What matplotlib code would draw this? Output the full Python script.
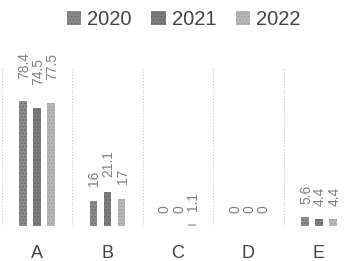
import numpy as np
import matplotlib.pyplot as plt

categories = ['A', 'B', 'C', 'D', 'E']
years = ['2020', '2021', '2022']
values = {
    '2020': [78.4, 16, 0, 0, 5.6],
    '2021': [74.5, 21.1, 0, 0, 4.4],
    '2022': [77.5, 17, 1.1, 0, 4.4],
}
colors = {'2020': '#8a8a8a', '2021': '#7e7e7e', '2022': '#b8b8b8'}
hatch_colors = {'2020': '#6a6a6a', '2021': '#5e5e5e', '2022': '#9a9a9a'}

font = ['Liberation Sans', 'DejaVu Sans']
plt.rcParams['hatch.linewidth'] = 0.6

fig = plt.figure(figsize=(3.5, 2.61), dpi=100)
ax = fig.add_axes([0.0, 0.134, 1.0, 0.609])

x = np.arange(len(categories))
for j, yr in enumerate(years):
    ax.bar(x + (j - 1) * 0.2, values[yr], width=0.105, color=colors[yr],
           edgecolor=hatch_colors[yr], linewidth=0, hatch='.....')
    for i, v in enumerate(values[yr]):
        ax.text(i + (j - 1) * 0.2 + 0.015, v * 1.08 + 8, f'{v:g}',
                rotation=90, ha='center', va='bottom', fontsize=10,
                color='#808080', family=font, clip_on=False)

# category separators
for i in range(len(categories)):
    ax.vlines(i - 0.5, 0, 100, color='#c8c8c8', lw=0.8, ls=':')
ax.axhline(0, color='#c8c8c8', lw=0.8, ls=':')

ax.set_xlim(-0.525, 4.44)
ax.set_ylim(0, 100)
ax.set_xticks(x)
ax.set_xticklabels(categories, fontsize=13, color='#444444', family=font)
ax.tick_params(axis='x', length=0, pad=14)
ax.set_yticks([])
for s in ax.spines.values():
    s.set_visible(False)
ax.patch.set_alpha(0)

handles = [plt.Rectangle((0, 0), 1, 1, facecolor=colors[yr], edgecolor=hatch_colors[yr],
                         linewidth=0, hatch='.....') for yr in years]
fig.legend(handles, years, loc='center', bbox_to_anchor=(0.525, 0.925), ncol=3,
           frameon=False, handlelength=0.7, handleheight=0.7, handletextpad=0.3,
           columnspacing=1.0, prop={'family': font, 'size': 14.5},
           labelcolor='#444444')

fig.savefig('out.png', dpi=100)
